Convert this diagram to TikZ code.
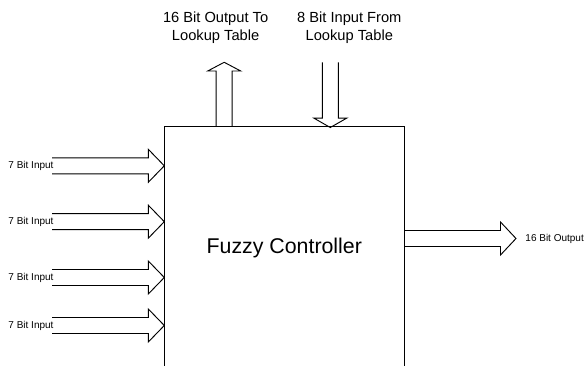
\documentclass[tikz,border=0pt]{standalone}
\usepackage{fontspec}
\setmainfont{Liberation Sans}

% hollow block arrow: start, direction, length, head length
\newcommand{\hollowarrow}[4]{%
  \draw[shift={#1}, rotate=#2] (0,8) -- ({#3-#4},8) -- ({#3-#4},16.5) -- (#3,0)
    -- ({#3-#4},-16.5) -- ({#3-#4},-8) -- (0,-8);}

\tikzset{
  small label/.style={font=\fontsize{7.5}{9}\selectfont, inner sep=0pt},
  top label/.style={font=\fontsize{11}{13.7}\selectfont, align=center, inner sep=0pt},
}

\begin{document}
\begin{tikzpicture}[x=0.75pt, y=-0.75pt, line width=0.7pt]
    \useasboundingbox (0,0) rectangle (587,366);

    % controller block (bottom edge lies below the page)
    \node[draw, minimum width=180pt, minimum height=183pt, inner sep=0pt,
          font=\fontsize{16}{19}\selectfont] (ctrl) at (284.3,248) {Fuzzy Controller};

    % inputs on the left
    \foreach \i/\y in {1/165.8, 2/221.7, 3/277.5, 4/325.5} {
      \coordinate (in\i) at (52,\y);
      \node[small label, anchor=west] (inlabel\i) at (8,\y) {7 Bit Input};
      \hollowarrow{(in\i)}{0}{112.3}{16}
    }

    % lookup table
    \node[top label] (lutout) at (215.6,27.5) {16 Bit Output To\\Lookup Table};
    \node[top label] (lutin) at (349.3,27.5) {8 Bit Input From\\Lookup Table};
    \coordinate (up) at (224.2,126);
    \coordinate (down) at (330.3,62.5);
    \hollowarrow{(up)}{90}{63.7}{8.7}
    \hollowarrow{(down)}{-90}{65}{9.4}

    % output on the right
    \coordinate (out) at (404.3,238.5);
    \hollowarrow{(out)}{0}{111.7}{15.5}
    \node[small label, anchor=west] (outlabel) at (525,238.5) {16 Bit Output};
\end{tikzpicture}
\end{document}
